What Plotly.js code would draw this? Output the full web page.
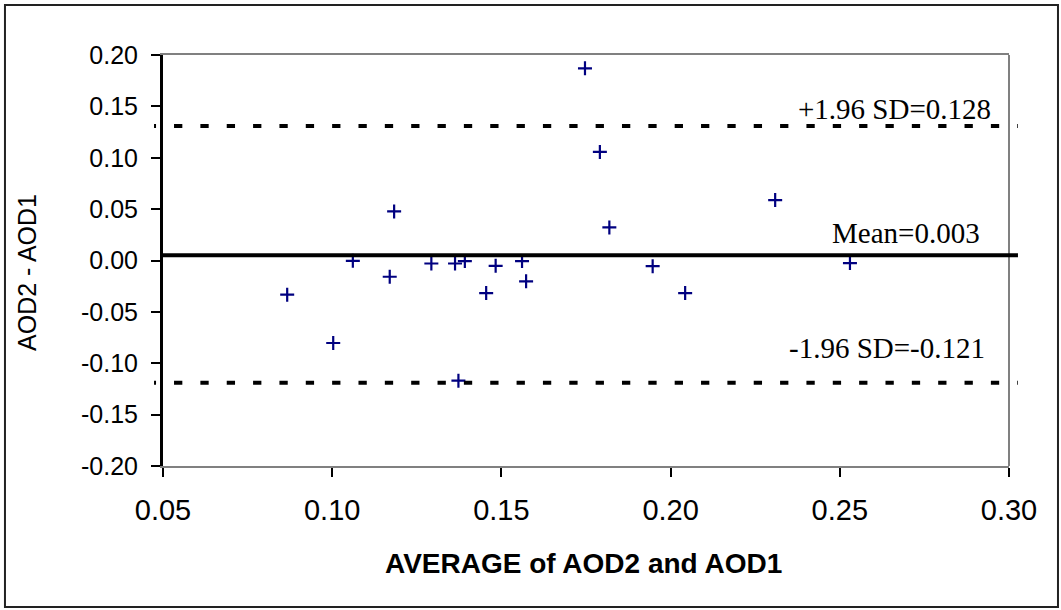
<!DOCTYPE html>
<html>
<head>
<meta charset="utf-8">
<script src="https://cdn.plot.ly/plotly-3.0.1.min.js"></script>
<style>
  html, body { margin: 0; padding: 0; background: #fff; }
  #chart { width: 1061px; height: 610px; }
</style>
</head>
<body>
<div id="chart"></div>
<script>
// ---- data ----
const avgAOD = [0.0867, 0.1003, 0.1061, 0.1170, 0.1183, 0.1293, 0.1363, 0.1373, 0.1392, 0.1455,
                0.1483, 0.1561, 0.1573, 0.1747, 0.1791, 0.1819, 0.1947, 0.2043, 0.2309, 0.2530];
const diffAOD = [-0.0333, -0.0803, -0.0003, -0.0158, 0.0478, -0.0029, -0.0029, -0.1170, -0.0006, -0.0317,
                 -0.0052, -0.0006, -0.0203, 0.1870, 0.1057, 0.0322, -0.0055, -0.0317, 0.0588, -0.0025];
const meanLine = 0.005;
const upperLimit = 0.131;
const lowerLimit = -0.119;
const meanLabel = "Mean=0.003";
const upperLabel = "+1.96 SD=0.128";
const lowerLabel = "-1.96 SD=-0.121";
const xTickVals = [0.05, 0.10, 0.15, 0.20, 0.25, 0.30];
const xTickLabels = ["0.05", "0.10", "0.15", "0.20", "0.25", "0.30"];
const yTickVals = [-0.20, -0.15, -0.10, -0.05, 0.00, 0.05, 0.10, 0.15, 0.20];
const yTickLabels = ["-0.20", "-0.15", "-0.10", "-0.05", "0.00", "0.05", "0.10", "0.15", "0.20"];
const xTitle = "AVERAGE of AOD2 and AOD1";
const yTitle = "AOD2 - AOD1";

// dashed pattern (style only)
let dashParts = ["2px", "18px"];
for (let i = 0; i < 40; i++) { dashParts.push("8.3px", "18.05px"); }
const dashPattern = dashParts.join(",");

const sans = "Liberation Sans, Arial, sans-serif";
const serif = "Liberation Serif, Times New Roman, serif";

const trace = {
  type: "scatter",
  mode: "markers",
  x: avgAOD,
  y: diffAOD,
  marker: { symbol: "cross-thin", size: 10, color: "#000080", line: { color: "#000080", width: 2.2 } },
  hoverinfo: "x+y",
  showlegend: false
};

const layout = {
  width: 1061,
  height: 610,
  margin: { l: 163, r: 52, t: 55, b: 144 },
  paper_bgcolor: "#fff",
  plot_bgcolor: "#fff",
  showlegend: false,
  xaxis: {
    range: [0.05, 0.30],
    tickvals: xTickVals,
    ticktext: xTickLabels,
    ticks: "outside",
    ticklen: 9,
    tickwidth: 2,
    tickcolor: "#000",
    ticklabelstandoff: 8,
    showline: true,
    linecolor: "#808080",
    linewidth: 2,
    mirror: true,
    showgrid: false,
    zeroline: false,
    tickfont: { family: sans, size: 29, color: "#000" }
  },
  yaxis: {
    range: [-0.20, 0.20],
    tickvals: yTickVals,
    ticktext: yTickLabels,
    ticks: "outside",
    ticklen: 9,
    tickwidth: 2,
    tickcolor: "#000",
    ticklabelstandoff: 8,
    showline: true,
    linecolor: "#000",
    linewidth: 3,
    showgrid: false,
    zeroline: false,
    tickfont: { family: sans, size: 25, color: "#000" }
  },
  shapes: [
    { type: "line", xref: "paper", yref: "paper", x0: 1, x1: 1, y0: 0, y1: 1,
      line: { color: "#808080", width: 2 } },
    { type: "line", xref: "paper", yref: "y", x0: 0, x1: 1.0106, y0: meanLine, y1: meanLine,
      line: { color: "#000", width: 4 } },
    { type: "line", xref: "paper", yref: "y", x0: -0.0106, x1: 1.0106, y0: upperLimit, y1: upperLimit,
      line: { color: "#000", width: 4, dash: dashPattern } },
    { type: "line", xref: "paper", yref: "y", x0: -0.0106, x1: 1.0106, y0: lowerLimit, y1: lowerLimit,
      line: { color: "#000", width: 4, dash: dashPattern } },
    { type: "rect", xref: "paper", yref: "paper", x0: -0.1868, x1: 1.0579, y0: -0.3431, y1: 1.1217,
      line: { color: "#222", width: 2 }, fillcolor: "rgba(0,0,0,0)", layer: "below" }
  ],
  annotations: [
    { xref: "x", yref: "y", x: 0.2953, y: upperLimit, xanchor: "right", yanchor: "bottom",
      text: upperLabel, showarrow: false, yshift: -1,
      font: { family: serif, size: 29, color: "#000" } },
    { xref: "x", yref: "y", x: 0.2920, y: meanLine, xanchor: "right", yanchor: "bottom",
      text: meanLabel, showarrow: false, yshift: 4,
      font: { family: serif, size: 29, color: "#000" } },
    { xref: "x", yref: "y", x: 0.2935, y: lowerLimit, xanchor: "right", yanchor: "bottom",
      text: lowerLabel, showarrow: false, yshift: 17,
      font: { family: serif, size: 29, color: "#000" } },
    { xref: "paper", yref: "paper", x: 0.4976, y: -0.2384, xanchor: "center", yanchor: "middle",
      text: "<b>" + xTitle + "</b>", showarrow: false,
      font: { family: sans, size: 28, color: "#000" } },
    { xref: "paper", yref: "paper", x: -0.1608, y: 0.472, xanchor: "center", yanchor: "middle",
      text: yTitle, textangle: -90, showarrow: false,
      font: { family: sans, size: 25, color: "#000" } }
  ]
};

Plotly.newPlot("chart", [trace], layout, { displayModeBar: false, staticPlot: true });
</script>
</body>
</html>
